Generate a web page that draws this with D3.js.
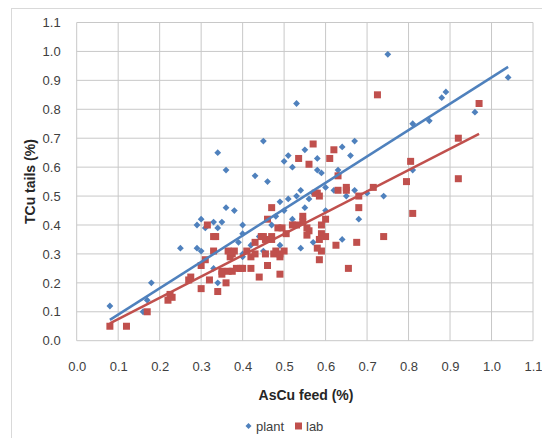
<!DOCTYPE html>
<html>
<head>
<meta charset="utf-8">
<script src="https://cdn.jsdelivr.net/npm/d3@7"></script>
<style>
  html, body { margin: 0; padding: 0; background: #fff; }
  svg { display: block; }
</style>
</head>
<body>
<svg id="chart" width="542" height="438"></svg>
<script>
// Tick values for both axes
const xTicks = [0.0, 0.1, 0.2, 0.3, 0.4, 0.5, 0.6, 0.7, 0.8, 0.9, 1.0, 1.1];
const yTicks = [0.0, 0.1, 0.2, 0.3, 0.4, 0.5, 0.6, 0.7, 0.8, 0.9, 1.0, 1.1];

// Plant samples: [AsCu feed %, TCu tails %]
const plant = [
  [0.08,0.12],[0.16,0.10],[0.17,0.14],[0.18,0.20],[0.25,0.32],[0.29,0.40],[0.30,0.42],
  [0.29,0.32],[0.30,0.31],[0.31,0.39],[0.33,0.41],[0.34,0.39],[0.35,0.41],[0.34,0.65],
  [0.36,0.59],[0.36,0.46],[0.38,0.45],[0.34,0.20],[0.33,0.25],[0.40,0.40],[0.40,0.37],
  [0.39,0.34],[0.40,0.29],[0.43,0.57],[0.46,0.55],[0.45,0.69],[0.44,0.36],[0.45,0.31],
  [0.48,0.43],[0.49,0.48],[0.49,0.33],[0.50,0.62],[0.51,0.64],[0.52,0.60],[0.53,0.50],
  [0.52,0.42],[0.54,0.32],[0.53,0.82],[0.55,0.66],[0.58,0.63],[0.58,0.59],[0.59,0.58],
  [0.60,0.53],[0.54,0.52],[0.55,0.46],[0.64,0.67],[0.66,0.64],[0.67,0.69],[0.63,0.59],
  [0.62,0.52],[0.67,0.52],[0.65,0.50],[0.70,0.51],[0.74,0.50],[0.68,0.42],[0.60,0.45],
  [0.64,0.35],[0.57,0.34],[0.75,0.99],[0.81,0.75],[0.85,0.76],[0.81,0.59],[0.88,0.84],
  [0.89,0.86],[0.96,0.79],[1.04,0.91],[0.57,0.51],[0.46,0.35],[0.40,0.30],[0.50,0.45],
  [0.56,0.49],[0.51,0.49],[0.47,0.40],[0.42,0.33],[0.37,0.31]
];

// Lab samples: [AsCu feed %, TCu tails %]
const lab = [
  [0.08,0.05],[0.12,0.05],[0.17,0.10],[0.22,0.14],[0.23,0.15],[0.225,0.16],[0.27,0.21],
  [0.275,0.22],[0.30,0.18],[0.30,0.26],[0.31,0.28],[0.32,0.21],[0.315,0.40],[0.33,0.36],
  [0.335,0.36],[0.33,0.31],[0.34,0.17],[0.36,0.20],[0.35,0.23],[0.35,0.24],[0.365,0.24],
  [0.375,0.24],[0.385,0.25],[0.395,0.25],[0.40,0.25],[0.365,0.31],[0.375,0.30],[0.38,0.31],
  [0.37,0.29],[0.41,0.31],[0.42,0.29],[0.42,0.25],[0.43,0.30],[0.44,0.22],[0.43,0.34],
  [0.445,0.36],[0.455,0.35],[0.46,0.26],[0.455,0.30],[0.47,0.46],[0.46,0.42],[0.47,0.36],
  [0.475,0.30],[0.48,0.31],[0.49,0.23],[0.485,0.39],[0.495,0.39],[0.49,0.29],[0.505,0.37],
  [0.52,0.40],[0.535,0.63],[0.57,0.68],[0.56,0.61],[0.62,0.66],[0.61,0.63],[0.63,0.57],
  [0.58,0.51],[0.585,0.50],[0.63,0.52],[0.725,0.85],[0.97,0.82],[0.92,0.70],[0.805,0.62],
  [0.795,0.55],[0.92,0.56],[0.81,0.44],[0.74,0.36],[0.715,0.53],[0.65,0.53],[0.65,0.52],
  [0.575,0.51],[0.68,0.46],[0.68,0.50],[0.60,0.42],[0.59,0.40],[0.59,0.37],[0.60,0.36],
  [0.585,0.35],[0.58,0.32],[0.59,0.31],[0.585,0.28],[0.625,0.33],[0.675,0.34],[0.655,0.25],
  [0.545,0.43],[0.545,0.41],[0.555,0.39],[0.56,0.38],[0.555,0.365],[0.53,0.40],[0.47,0.35],
  [0.45,0.36],[0.49,0.30],[0.50,0.31]
];

// Linear trendlines: [slope, intercept] and x extent for each series
const plantFit = [0.911, -0.001];
const plantFitRange = [0.08, 1.04];
const labFit = [0.736, 0.001];
const labFitRange = [0.08, 0.97];

const plantColor = "#4F81BD";
const labColor = "#C0504D";
const font = "'Liberation Sans', Arial, sans-serif";

const svg = d3.select("#chart");

// Outer chart frame
svg.append("rect")
  .attr("x", 11.5).attr("y", 8.5)
  .attr("width", 560).attr("height", 460)
  .attr("fill", "none")
  .attr("stroke", "#d9d9d9")
  .attr("stroke-width", 1);

const x = d3.scaleLinear().domain([0, 1.1]).range([76.7, 533]);
const y = d3.scaleLinear().domain([0, 1.1]).range([340.7, 22.5]);

// Gridlines
const grid = svg.append("g");
grid.selectAll("line.v").data(xTicks).join("line")
  .attr("x1", d => x(d)).attr("x2", d => x(d))
  .attr("y1", y(1.1)).attr("y2", y(0))
  .attr("stroke", "#c8c8c8").attr("stroke-width", 1);
grid.selectAll("line.h").data(yTicks).join("line")
  .attr("x1", x(0)).attr("x2", x(1.1))
  .attr("y1", d => y(d)).attr("y2", d => y(d))
  .attr("stroke", "#c8c8c8").attr("stroke-width", 1);

// Axes (labels only, no domain lines)
const xAxis = svg.append("g")
  .attr("transform", `translate(0,${y(0) + 18})`)
  .call(d3.axisBottom(x).tickValues(xTicks).tickFormat(d3.format(".1f")).tickSize(0));
xAxis.select(".domain").remove();
xAxis.selectAll("text")
  .attr("font-family", font).attr("font-size", 13).attr("fill", "#404040");

const yAxis = svg.append("g")
  .attr("transform", `translate(${x(0) - 13},0)`)
  .call(d3.axisLeft(y).tickValues(yTicks).tickFormat(d3.format(".1f")).tickSize(0));
yAxis.select(".domain").remove();
yAxis.selectAll("text")
  .attr("font-family", font).attr("font-size", 13).attr("fill", "#404040");

// Diamond marker path with equal width and height
function diamondPath(r) {
  return `M0,${-r}L${r},0L0,${r}L${-r},0Z`;
}

// Plant markers (diamonds)
svg.append("g").selectAll("path").data(plant).join("path")
  .attr("d", diamondPath(3.4))
  .attr("transform", d => `translate(${x(d[0])},${y(d[1])})`)
  .attr("fill", plantColor);

// Lab markers (squares)
svg.append("g").selectAll("rect").data(lab).join("rect")
  .attr("x", d => x(d[0]) - 3.5).attr("y", d => y(d[1]) - 3.5)
  .attr("width", 7).attr("height", 7)
  .attr("fill", labColor);

// Trendlines
function fitLine(fit, range, color) {
  const pts = range.map(v => [v, fit[0] * v + fit[1]]);
  svg.append("path")
    .attr("d", d3.line().x(d => x(d[0])).y(d => y(d[1]))(pts))
    .attr("stroke", color).attr("stroke-width", 2.5)
    .attr("fill", "none");
}
fitLine(plantFit, plantFitRange, plantColor);
fitLine(labFit, labFitRange, labColor);

// Axis titles
svg.append("text")
  .attr("x", 306).attr("y", 400)
  .attr("text-anchor", "middle")
  .attr("font-family", font).attr("font-size", 14).attr("font-weight", "bold")
  .attr("fill", "#262626")
  .text("AsCu feed (%)");

svg.append("text")
  .attr("transform", `translate(35,${(y(0) + y(1.1)) / 2}) rotate(-90)`)
  .attr("text-anchor", "middle")
  .attr("font-family", font).attr("font-size", 14).attr("font-weight", "bold")
  .attr("fill", "#262626")
  .text("TCu tails (%)");

// Legend
const legend = svg.append("g");
legend.append("path")
  .attr("d", diamondPath(3))
  .attr("transform", "translate(248.5,426)")
  .attr("fill", plantColor);
legend.append("text")
  .attr("x", 256).attr("y", 430.5)
  .attr("font-family", font).attr("font-size", 13).attr("fill", "#404040")
  .text("plant");
legend.append("rect")
  .attr("x", 295).attr("y", 422.5).attr("width", 7).attr("height", 7)
  .attr("fill", labColor);
legend.append("text")
  .attr("x", 306).attr("y", 430.5)
  .attr("font-family", font).attr("font-size", 13).attr("fill", "#404040")
  .text("lab");
</script>
</body>
</html>
